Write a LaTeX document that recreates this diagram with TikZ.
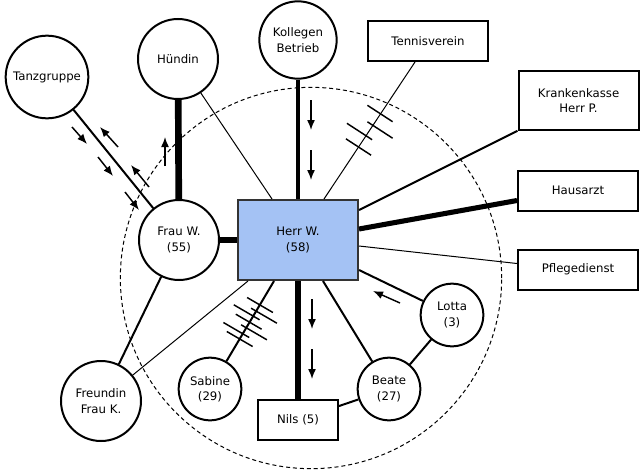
\documentclass[tikz,border=0pt]{standalone}
\usepackage{fontspec}
\setmainfont{DejaVu Sans}
\usepackage{xcolor}
\usetikzlibrary{arrows.meta}

\definecolor{herrblue}{RGB}{164,194,244}

\begin{document}
\begin{tikzpicture}[x=0.75pt,y=-0.75pt,
        font=\fontsize{8.8}{11.5}\selectfont,
        person/.style={circle, draw, line width=1.5pt, fill=white, align=center, inner sep=0pt},
        inst/.style={rectangle, draw, line width=1.5pt, fill=white, align=center,
            minimum width=90pt, minimum height=30pt},
        weak/.style={line width=0.75pt},
        normal/.style={line width=1.5pt},
        strong/.style={line width=2.4pt},
        stronger/.style={line width=3.8pt},
        strongest/.style={line width=5pt},
        flow/.style={-{Latex[length=7.5pt,width=6pt]}, line width=1.1pt},
        hash/.style={line width=1.1pt}]
            \useasboundingbox (0,0) rectangle (641,471);

            \draw[weak, dash pattern=on 3pt off 2.2pt] (311,278) circle[radius=143pt];

            \node[rectangle, draw=black!80, line width=1.5pt, fill=herrblue, align=center,
                minimum width=90pt, minimum height=60pt] (herr) at (298,240) {Herr W.\\(58)};

            \node[person, minimum size=62pt] (tanz) at (47,77) {Tanzgruppe};
            \node[person, minimum size=60pt] (huendin) at (178,59) {Hündin};
            \node[person, minimum size=58pt] (kollegen) at (298,40) {Kollegen\\Betrieb};
            \node[person, minimum size=60pt] (frau) at (179,240) {Frau W.\\(55)};
            \node[person, minimum size=60pt] (freundin) at (101,401) {Freundin\\Frau K.};
            \node[person, minimum size=47pt] (sabine) at (210,389) {Sabine\\(29)};
            \node[person, minimum size=47pt] (beate) at (389,389) {Beate\\(27)};
            \node[person, minimum size=47pt] (lotta) at (452,315) {Lotta\\(3)};

            \node[inst] (tennis) at (428,41) {Tennisverein};
            \node[inst, minimum height=44pt] (kranken) at (578.5,100.5) {Krankenkasse\\Herr P.};
            \node[inst] (hausarzt) at (578,190.5) {Hausarzt};
            \node[inst] (pflege) at (578,269.5) {Pflegedienst};
            \node[inst, minimum width=60pt] (nils) at (298,420) {Nils (5)};

            \draw[weak] (huendin) -- ([xshift=-19.5pt]herr.north);
            \draw[strong] (kollegen) -- (herr.north);
            \draw[weak] ([xshift=-9.75pt]tennis.south) -- ([xshift=19.5pt]herr.north);
            \draw[normal] ([yshift=22.5pt]herr.east) -- (kranken.south west);
            \draw[stronger] ([yshift=8.25pt]herr.east) -- ([yshift=-7.5pt]hausarzt.west);
            \draw[weak] ([yshift=-4.5pt]herr.east) -- ([yshift=4.5pt]pflege.west);
            \draw[normal] ([yshift=-22.5pt]herr.east) -- (lotta);
            \draw[normal] ([xshift=18.75pt]herr.south) -- (beate);
            \draw[strongest] (herr.south) -- (nils.north);
            \draw[normal] ([xshift=-18pt]herr.south) -- (sabine);
            \draw[weak] ([xshift=8.25pt]herr.south west) -- (freundin);
            \draw[strongest] (frau) -- (herr.west);
            \draw[strongest] (huendin) -- (frau);
            \draw[normal] (tanz) -- (frau);
            \draw[normal] (frau) -- (freundin);
            \draw[normal] (lotta) -- (beate);
            \draw[normal] (nils) -- (beate);

            \draw[flow] (72,127) -- (87,144);
            \draw[flow] (98,157) -- (113,176);
            \draw[flow] (125,192) -- (139,210);
            \draw[flow] (118,147) -- (100,127);
            \draw[flow] (149,187) -- (131,165);
            \draw[flow] (165,166) -- (165,137);
            \draw[flow] (311,100) -- (311,130);
            \draw[flow] (311,150) -- (311,180);
            \draw[flow] (312,299) -- (312,329);
            \draw[flow] (312,349) -- (312,379);
            \draw[flow] (400,303) -- (373,291);

            \draw[hash] (380,113.5) ++(-12.6,-8.2) -- ++(25.2,16.4);
            \draw[hash] (359.5,131.5) ++(-12.6,-8.2) -- ++(25.2,16.4);
            \draw[hash] (380,130) ++(-12.6,-8.2) -- ++(25.2,16.4);
            \draw[hash] (358.5,147) ++(-12.6,-8.2) -- ++(25.2,16.4);

            \draw[hash] (260,305) ++(-12.9,-7.5) -- ++(25.8,15);
            \draw[hash] (246.7,312.3) ++(-12.9,-7.5) -- ++(25.8,15);
            \draw[hash] (264,315.7) ++(-12.9,-7.5) -- ++(25.8,15);
            \draw[hash] (248.7,321.7) ++(-12.9,-7.5) -- ++(25.8,15);
            \draw[hash] (236.3,330) ++(-12.9,-7.5) -- ++(25.8,15);
            \draw[hash] (254,332.3) ++(-12.9,-7.5) -- ++(25.8,15);
            \draw[hash] (239.7,339) ++(-12.9,-7.5) -- ++(25.8,15);
        \end{tikzpicture}
\end{document}
